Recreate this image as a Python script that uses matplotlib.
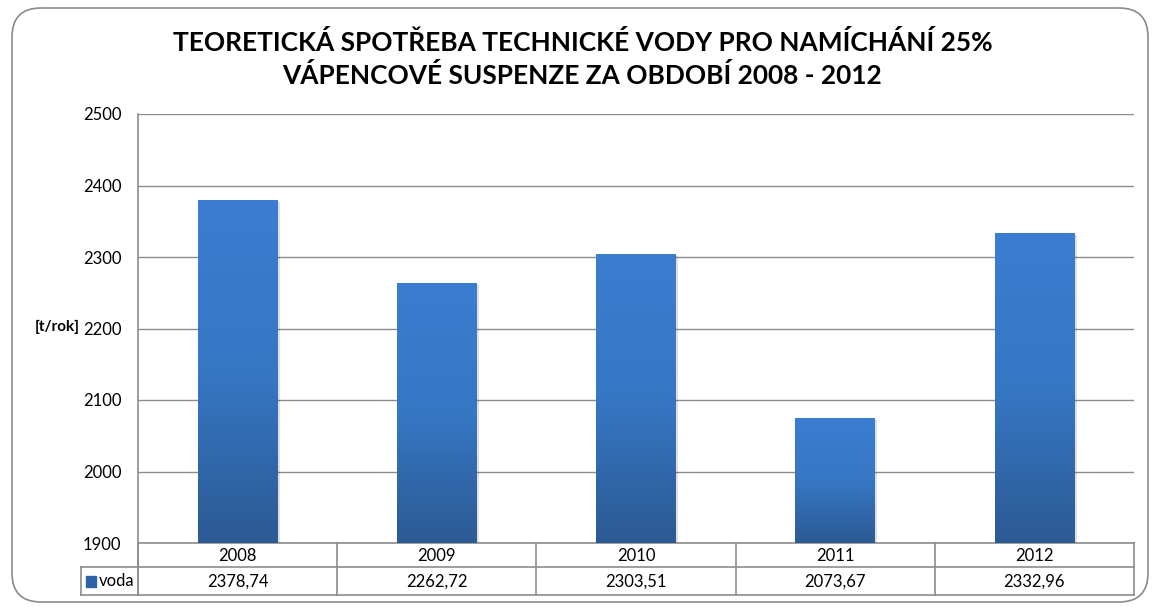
import numpy as np
import matplotlib.pyplot as plt
from matplotlib.patches import FancyBboxPatch, Rectangle
from matplotlib.colors import LinearSegmentedColormap

# data
years = ['2008', '2009', '2010', '2011', '2012']
voda = [2378.74, 2262.72, 2303.51, 2073.67, 2332.96]
series_name = 'voda'
y_label = '[t/rok]'
title = 'TEORETICKÁ SPOTŘEBA TECHNICKÉ VODY PRO NAMÍCHÁNÍ 25%\nVÁPENCOVÉ SUSPENZE ZA OBDOBÍ 2008 - 2012'
y_ticks = [1900, 2000, 2100, 2200, 2300, 2400, 2500]

plt.rcParams['font.family'] = ['Lato', 'DejaVu Sans']

W, H = 1158, 609
fig = plt.figure(figsize=(W / 100, H / 100), dpi=100)

def fx(px):
    return px / W

def fy(py):
    return 1 - py / H

# rounded outer frame
frame = FancyBboxPatch((fx(12), fy(602)), fx(1148) - fx(12), fy(8) - fy(602),
                       boxstyle='round,pad=0,rounding_size=0.025',
                       transform=fig.transFigure, fill=False,
                       edgecolor='#8a8a8a', linewidth=1.2, mutation_aspect=W / H)
fig.patches.append(frame)

fig.text(0.503, fy(59), title, ha='center', va='center', fontsize=18.9,
         fontweight='bold', linespacing=1.35)

left, right, top, bottom = 138, 1134, 114, 543
ax = fig.add_axes([fx(left), fy(bottom), fx(right) - fx(left), fy(top) - fy(bottom)])
ax.set_ylim(1900, 2500)
ax.set_xlim(-0.5, len(years) - 0.5)
ax.set_yticks(y_ticks)
ax.set_yticklabels([str(t) for t in y_ticks], fontsize=12)
ax.tick_params(axis='y', length=0, pad=12)
ax.set_xticks([])
ax.grid(axis='y', color='#8c8c8c', linewidth=1)
ax.set_axisbelow(True)
for s in ['top', 'right']:
    ax.spines[s].set_visible(False)
ax.spines['left'].set_color('#8c8c8c')
ax.spines['bottom'].set_color('#8c8c8c')
ax.spines['left'].set_linewidth(1.2)
ax.spines['bottom'].set_linewidth(1.2)

fig.text(fx(80), fy(327), y_label, ha='right', va='center',
         fontsize=11, fontweight='bold')

cmap = LinearSegmentedColormap.from_list('bar', ['#2c5a94', '#3677c4', '#3b7dd0'])
grad = np.linspace(0, 1, 256).reshape(-1, 1)
bw = 0.4
x = np.arange(len(years))
bars = ax.bar(x, [v - 1900 for v in voda], bottom=1900, width=bw, color='none', zorder=3)
for b in bars:
    x0, w, h = b.get_x(), b.get_width(), b.get_height()
    # soft shadow
    ax.add_patch(Rectangle((x0 + 0.012, 1900), w, h - 2, color='#000000', alpha=0.12,
                           linewidth=0, zorder=2))
    ax.imshow(grad, cmap=cmap, aspect='auto', origin='lower',
              extent=(x0, x0 + w, 1900, 1900 + h), zorder=3)
ax.set_xlim(-0.5, len(years) - 0.5)
ax.set_ylim(1900, 2500)

# data table below the plot
row1, row2, row3 = 543, 567, 595
tl = 81
line_kw = dict(color='#8c8c8c', linewidth=1.2, transform=fig.transFigure)
fig.add_artist(plt.Line2D([fx(tl), fx(right)], [fy(row2), fy(row2)], **line_kw))
fig.add_artist(plt.Line2D([fx(tl), fx(right)], [fy(row3), fy(row3)], **line_kw))
fig.add_artist(plt.Line2D([fx(tl), fx(tl)], [fy(row2), fy(row3)], **line_kw))
fig.add_artist(plt.Line2D([fx(left), fx(left)], [fy(row1), fy(row3)], **line_kw))
cw = (right - left) / len(years)
for i in range(len(years) + 1):
    xc = left + i * cw
    fig.add_artist(plt.Line2D([fx(xc), fx(xc)], [fy(row1), fy(row3)], **line_kw))
for i, (yr, v) in enumerate(zip(years, voda)):
    xc = left + (i + 0.5) * cw
    fig.text(fx(xc), fy((row1 + row2) / 2 + 1), yr, ha='center', va='center', fontsize=12)
    fig.text(fx(xc), fy((row2 + row3) / 2 + 1), ('%.2f' % v).replace('.', ','),
             ha='center', va='center', fontsize=12)

fig.add_artist(Rectangle((fx(86), fy(587)), fx(10), fy(576) - fy(587),
                         transform=fig.transFigure, color='#2e62a6'))
fig.text(fx(99), fy(581), series_name, ha='left', va='center', fontsize=12)

fig.savefig('out.png', dpi=100)
